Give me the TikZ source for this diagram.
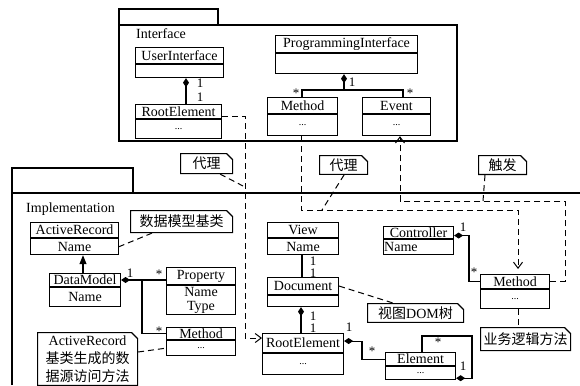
\documentclass[tikz,border=0pt]{standalone}
\usepackage{fontspec}
\setmainfont{Liberation Serif}
\newfontfamily\cjk{Noto Sans CJK SC}
\usetikzlibrary{arrows.meta,shapes.misc}
\tikzset{
  hdr/.style={draw, line width=1.1pt, inner sep=0pt, font=\fontsize{14}{16}\selectfont},
  bdy/.style={draw, line width=1.1pt, inner sep=0pt, font=\fontsize{14}{14}\selectfont, align=center},
  pkg/.style={line width=1.2pt},
  dep/.style={line width=1pt, dash pattern=on 6pt off 4pt},
  solidln/.style={line width=1.1pt},
  comp/.style={line width=1.1pt, {Diamond[length=9pt,width=6pt]}-},
  openarr/.style={-{Straight Barb[length=6pt,width=9pt]}},
  mult/.style={inner sep=0pt, font=\fontsize{13}{13}\selectfont},
  note/.style={draw, chamfered rectangle, chamfered rectangle corners=north east,
    chamfered rectangle xsep=3pt, chamfered rectangle ysep=3pt, line width=1.1pt,
    inner sep=0pt, font=\cjk\fontsize{14}{18}\selectfont, align=center},
  lbl/.style={inner sep=0pt, anchor=base west, font=\fontsize{14}{16}\selectfont},
}
\newcommand\dotsz{\fontsize{10}{10}\selectfont}
\newcommand\umlclass[8]{%
  \node[hdr, minimum width={#4-#2}, minimum height={#5-#3}, anchor=north west] (#1) at (#2,#3) {#7};
  \node[bdy, minimum width={#4-#2}, minimum height={#6-#5}, anchor=north west] (#1b) at (#1.south west) {#8};
}
\begin{document}
\begin{tikzpicture}[x=1pt,y=-1pt]
\useasboundingbox (0,0) rectangle (580,385);
% packages
\draw[pkg] (119,9) rectangle (218,25);
\draw[pkg] (119,25) rectangle (457,141);
\node[lbl] (lint) at (136,39) {Interface};
\draw[pkg] (12,168) rectangle (133,193);
\draw[pkg] (12,385) -- (12,193) -- (580,193);
\node[lbl] (limp) at (26,212) {Implementation};
% classes
\umlclass{ui}{135}{47}{223}{63}{76}{UserInterface}{}
\umlclass{ire}{135}{104}{221}{118}{137}{RootElement}{\dotsz...}
\umlclass{pi}{275}{35}{417}{52}{72}{ProgrammingInterface}{}
\umlclass{im}{267}{97}{337}{113}{134}{Method}{\dotsz...}
\umlclass{ev}{362}{97}{430}{113}{134}{Event}{\dotsz...}
\umlclass{ar}{30}{222}{118}{237}{253}{ActiveRecord}{Name}
\umlclass{dm}{49}{273}{120}{286}{305}{DataModel}{Name}
\umlclass{pr}{166}{267}{235}{284}{313}{Property}{Name\\Type}
\umlclass{mm}{166}{327}{235}{339}{354}{Method}{\dotsz...}
\umlclass{vw}{267}{222}{338}{237}{253}{View}{Name}
\umlclass{doc}{267}{277}{338}{294}{305}{Document}{}
\umlclass{re}{262}{333}{343}{352}{373}{RootElement}{\dotsz...}
\umlclass{el}{385}{352}{455}{365}{378}{Element}{\dotsz...}
\umlclass{ct}{383}{226}{453}{238}{253}{Controller}{}
\umlclass{bm}{480}{274}{549}{288}{307}{Method}{\dotsz...}
\node[anchor=west, inner sep=1pt, font=\fontsize{14}{14}\selectfont] (ctn) at (ctb.west) {Name};
% notes
\node[note, minimum width=52, minimum height=20, anchor=north west] (n1) at (180,153) {代理};
\node[note, minimum width=48, minimum height=18, anchor=north west] (n2) at (319,155) {代理};
\node[note, minimum width=48, minimum height=18, anchor=north west] (n3) at (478,155) {触发};
\node[note, minimum width=102, minimum height=22, anchor=north west] (n4) at (130,210) {数据模型基类};
\node[note, minimum width=100, minimum height=52, anchor=north west] (n5) at (37,332) {{\rmfamily ActiveRecord}\\基类生成的数\\据源访问方法};
\node[note, minimum width=96, minimum height=18, anchor=north west] (n6) at (367,303) {视图{\rmfamily DOM}树};
\node[note, minimum width=90, minimum height=23, anchor=north west] (n7) at (480,327) {业务逻辑方法};
% Interface connectors
\draw[comp] (186,0 |- uib.south) -- (186,0 |- ire.north);
\node[mult] (mu1) at (200,83) {1};
\node[mult] (mu2) at (200,97) {1};
\coordinate (pj) at (344,90);
\draw[comp] (pj |- pib.south) -- (pj);
\draw[solidln] (302,0 |- im.north) |- (pj) -| (403,0 |- ev.north);
\node[mult] (mu3) at (352,82) {1};
\node[mult] (mu4) at (296,93) {*};
\node[mult] (mu5) at (410,93) {*};
% dashed delegations / triggers
\coordinate (d1) at (245,338);
\draw[dep, openarr] ([yshift=3pt]ire.south east) -| (d1) -- (re.west |- d1);
\coordinate (c1) at (243,186);
\draw[dep] ([xshift=-13pt]n1.south east) -- (c1);
\coordinate (c3) at (518,210);
\draw[dep, openarr, shorten >=5pt] (301,0 |- imb.south) |- (c3) -- (c3 |- bm.north);
\coordinate (c2) at (322,210);
\draw[dep] ([xshift=-24pt]n2.south east) -- (c2);
\coordinate (c4) at (565,201);
\draw[dep, openarr] (bm.east) -| (c4) -| (400,0 |- evb.south);
\coordinate (c5) at (483,201);
\draw[dep] ([xshift=7pt]n3.south west) -- (c5);
\draw[dep] ([xshift=22pt]n4.south west) -- (arb.east);
% Implementation connectors
\draw[solidln, -{Triangle[length=9pt,width=7pt]}] (83,0 |- dm.north) -- (83,0 |- arb.south);
\coordinate (j1) at (142,280);
\draw[comp] (dm.east |- j1) -- (pr.west |- j1);
\draw[solidln] (j1) |- (mm.west);
\node[mult] (mu6) at (130,273) {1};
\node[mult] (mu7) at (159,274) {*};
\node[mult] (mu8) at (159,331) {*};
\draw[dep] (n5.east |- 0,352) -- (mmb.west);
\draw[solidln] (302,0 |- vwb.south) -- (302,0 |- doc.north);
\node[mult] (mu9) at (313,261) {1};
\node[mult] (mu10) at (313,273) {1};
\draw[comp] (301,0 |- docb.south) -- (301,0 |- re.north);
\node[mult] (mu11) at (313,316) {1};
\node[mult] (mu12) at (313,328) {1};
\draw[comp] ([yshift=2pt]re.east) -| (362,0 |- el.west) -- (el.west);
\node[mult] (mu13) at (349,327) {1};
\node[mult] (mu14) at (372,351) {*};
\draw[comp] ([yshift=2pt]elb.south east) -| (472,336) -| (422,0 |- el.north);
\node[mult] (mu15) at (438,342) {*};
\node[mult] (mu16) at (463,366) {1};
\draw[dep] (doc.east) -- ([xshift=26pt]n6.north west);
\draw[comp] ([yshift=-3pt]ct.east) -| (469,0 |- bm.west) -- (bm.west);
\node[mult] (mu17) at (463,227) {1};
\node[mult] (mu18) at (474,272) {*};
\draw[dep] (518,0 |- bmb.south) -- (518,0 |- n7.north);
\end{tikzpicture}
\end{document}
